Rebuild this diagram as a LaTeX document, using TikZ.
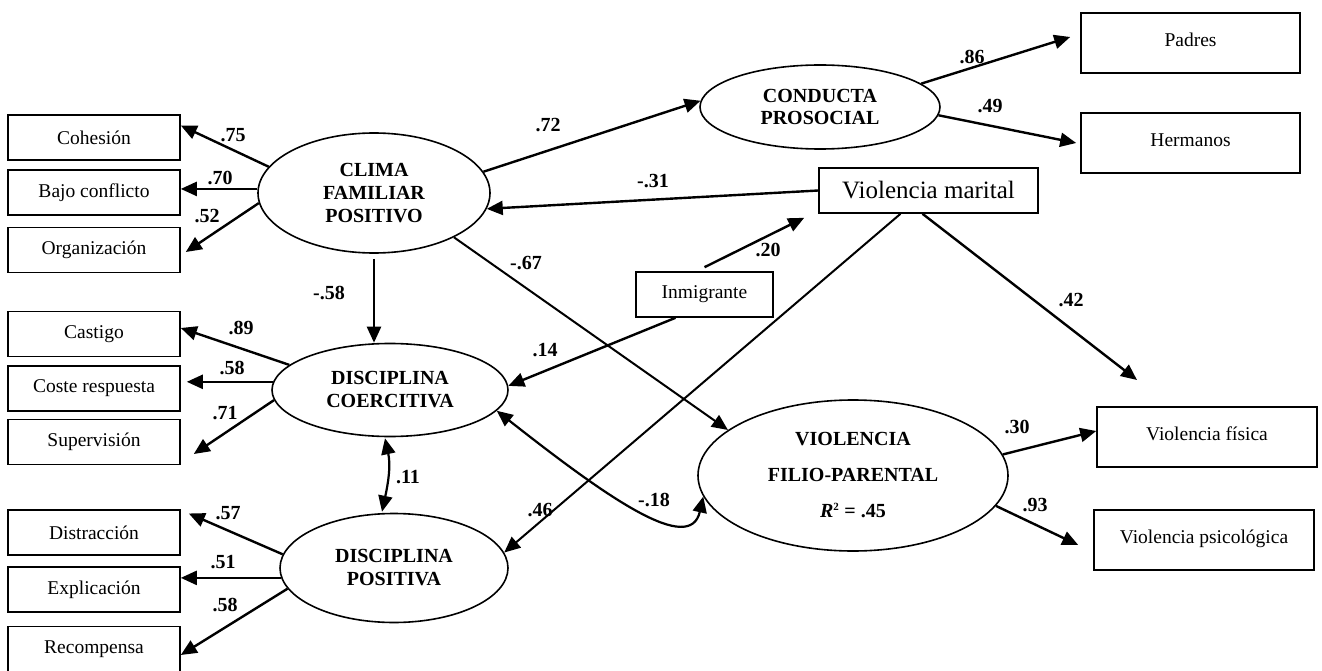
\documentclass[tikz,border=0pt]{standalone}
\usepackage{fontspec}
\setmainfont{Liberation Serif}
\usetikzlibrary{shapes.geometric,arrows.meta}
\newcommand{\fsz}[1]{\fontsize{#1}{#1}\selectfont}
\tikzset{
  obsbox/.style={draw, line width=1.6pt, minimum width=172pt, minimum height=45pt, inner sep=0pt, font=\fsz{19.5}},
  latent/.style={draw, ellipse, line width=1.6pt, inner sep=0pt, align=center, font=\fsz{20}\bfseries},
  conn/.style={line width=2.4pt, -{Triangle[length=16pt,width=14pt]}},
  thinconn/.style={line width=2pt, -{Triangle[length=16pt,width=14pt]}},
  dconn/.style={line width=2.2pt, {Triangle[length=16pt,width=14pt]}-{Triangle[length=16pt,width=14pt]}},
  coef/.style={font=\fsz{20}\bfseries, inner sep=0pt}
}
\begin{document}
\begin{tikzpicture}[x=1pt,y=-1pt]
\useasboundingbox (0,0) rectangle (1322,671);
% left indicator boxes
\node[obsbox] (coh) at (94,137.5) {Cohesión};
\node[obsbox] (bajo) at (94,192.5) {Bajo conflicto};
\node[obsbox] (org) at (94,250) {Organización};
\node[obsbox] (cast) at (94,334) {Castigo};
\node[obsbox] (coste) at (94,388.5) {Coste respuesta};
\node[obsbox] (sup) at (94,442) {Supervisión};
\node[obsbox] (dist) at (94,532.5) {Distracción};
\node[obsbox] (expl) at (94,589.5) {Explicación};
\node[obsbox] (rec) at (94,649) {Recompensa};
% right boxes
\node[obsbox, minimum width=219pt, minimum height=60pt] (padres) at (1190.5,43) {\raisebox{6pt}{Padres}};
\node[obsbox, minimum width=219pt, minimum height=60pt] (herm) at (1190.5,143) {\raisebox{6pt}{Hermanos}};
\node[obsbox, minimum width=220pt, minimum height=60pt] (vf) at (1207,437) {\raisebox{6pt}{Violencia física}};
\node[obsbox, minimum width=220pt, minimum height=60pt] (vps) at (1204,540) {\raisebox{6pt}{Violencia psicológica}};
\node[obsbox, minimum width=219pt, minimum height=45pt, font=\fsz{25}] (vm) at (928.5,190.5) {Violencia marital};
\node[obsbox, minimum width=137pt, minimum height=45pt] (inm) at (704.5,294.5) {Inmigrante};
% latent variables
\node[latent, minimum width=232pt, minimum height=120pt] (clima) at (374,193) {CLIMA\\[3pt]FAMILIAR\\[3pt]POSITIVO};
\node[latent, minimum width=240pt, minimum height=84pt] (cond) at (820,107) {CONDUCTA\\[2pt]PROSOCIAL};
\node[latent, minimum width=236pt, minimum height=93pt] (dc) at (390,390) {DISCIPLINA\\[3pt]COERCITIVA};
\node[latent, minimum width=228pt, minimum height=109pt] (dp) at (394,568) {DISCIPLINA\\[3pt]POSITIVA};
\node[latent, minimum width=310pt, minimum height=151pt] (vfp) at (853,475.5) {VIOLENCIA\\[16pt]FILIO-PARENTAL\\[16pt]\textit{R}\textsuperscript{\fsz{11}2} = .45};
\coordinate (vmend) at (1137,380);
% connectors: clima
\draw[conn] (clima.166) -- ([yshift=12pt]coh.east);
\draw[conn] (clima.178) -- (bajo.east |- clima.178);
\draw[conn] (clima.185) -- ([xshift=5pt,yshift=-2pt]org.east);
\draw[conn] (clima.11) -- (cond.177);
\draw[conn] (vm.west) -- (clima.-8);
\draw[conn] ([yshift=-5pt]clima.south) -- (clima.south |- dc.north);
\draw[thinconn] (clima.-29) -- (vfp.160);
% conducta prosocial
\draw[conn] (cond.13) -- ([xshift=-10pt,yshift=6pt]padres.west);
\draw[conn] (cond.-4) -- ([xshift=-4pt]herm.west);
% inmigrante
\draw[conn] ([yshift=4pt]inm.north) -- ([xshift=-14pt,yshift=-4pt]vm.south west);
\draw[conn] ([xshift=-29pt]inm.south) -- (dc.2);
% violencia marital
\draw[thinconn] ([xshift=-28pt]vm.south) -- (dp.8);
\draw[conn] ([xshift=-6pt]vm.south) -- (vmend);
% disciplina coercitiva
\draw[conn] (dc.166) -- ([yshift=6pt]cast.east);
\draw[conn] (dc.176) -- ([xshift=6pt]coste.east |- dc.176);
\draw[conn] (dc.185) -- ([xshift=13pt,yshift=-12pt]sup.east);
% disciplina positiva
\draw[conn] (dp.173) -- ([xshift=8pt,yshift=19pt]dist.east);
\draw[conn] (dp.185) -- (expl.east |- dp.185);
\draw[conn] (dp.191) -- ([yshift=-6pt]rec.east);
% vfp indicators
\draw[conn] (vfp.8) -- ([yshift=6pt]vf.west);
\draw[conn] (vfp.-12) -- ([xshift=-15pt,yshift=-5pt]vps.west);
% correlations
\draw[dconn] ([xshift=-5pt,yshift=-1pt]dc.south) .. controls +(6,28) and +(6,-28) .. ([xshift=-12pt,yshift=1pt]dp.north);
\draw[dconn] (dc.-11) .. controls (610,500) and (690,555) .. (vfp.188);
% coefficient labels
\node[coef] (l75) at (233,135) {.75};
\node[coef] (l70) at (220,178) {.70};
\node[coef] (l52) at (207,216) {.52};
\node[coef] (l72) at (548,125) {.72};
\node[coef] (l31) at (653,181) {-.31};
\node[coef] (l58a) at (329,293) {-.58};
\node[coef] (l67) at (526,263) {-.67};
\node[coef] (l20) at (768,250) {.20};
\node[coef] (l14) at (545,350) {.14};
\node[coef] (l46) at (540,510) {.46};
\node[coef] (l42) at (1071,300) {.42};
\node[coef] (l86) at (972,57) {.86};
\node[coef] (l49) at (990,106) {.49};
\node[coef] (l30) at (1017,427) {.30};
\node[coef] (l93) at (1035,505) {.93};
\node[coef] (l11) at (408,477) {.11};
\node[coef] (l18) at (654,500) {-.18};
\node[coef] (l89) at (241,328) {.89};
\node[coef] (l58b) at (232,368) {.58};
\node[coef] (l71) at (225,413) {.71};
\node[coef] (l57) at (228,513) {.57};
\node[coef] (l51) at (223,562) {.51};
\node[coef] (l58c) at (225,605) {.58};
\end{tikzpicture}
\end{document}
